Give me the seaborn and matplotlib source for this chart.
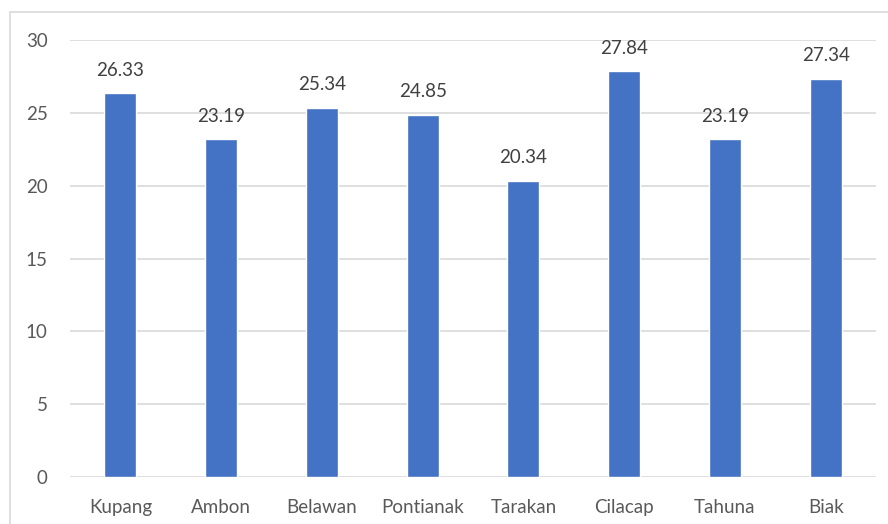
import matplotlib
matplotlib.use("Agg")
import matplotlib.pyplot as plt
import seaborn as sns
import pandas as pd
from matplotlib.patches import Rectangle

# ---- Data ----
cities = ['Kupang', 'Ambon', 'Belawan', 'Pontianak', 'Tarakan', 'Cilacap', 'Tahuna', 'Biak']
values = [26.33, 23.19, 25.34, 24.85, 20.34, 27.84, 23.19, 27.34]
y_ticks = [0, 5, 10, 15, 20, 25, 30]

df = pd.DataFrame({'city': cities, 'value': values})

sns.set_theme(style='white')
plt.rcParams['font.family'] = ['Lato', 'DejaVu Sans']

W, H = 888, 524
fig = plt.figure(figsize=(W / 100, H / 100), dpi=100)
ax = fig.add_axes([70 / W, 1 - 477 / H, (876 - 70) / W, (477 - 40) / H])

sns.barplot(data=df, x='city', y='value', color='#4472C4', width=0.32,
            saturation=1, ax=ax, zorder=3)

ax.set_ylim(0, 30)
ax.set_yticks(y_ticks)
ax.set_xlim(-0.5, len(cities) - 0.5)
ax.grid(axis='y', color='#d9d9d9', linewidth=1.2, zorder=0)
for s in ax.spines.values():
    s.set_visible(False)
ax.set_xlabel('')
ax.set_ylabel('')
ax.tick_params(axis='both', length=0, labelsize=13.5, colors='#595959')
ax.tick_params(axis='x', pad=16)
ax.tick_params(axis='y', pad=16)

for i, v in enumerate(values):
    ax.text(i, v + 1.0, f'{v:.2f}', ha='center', va='bottom',
            fontsize=13.5, color='#404040')

# outer chart frame
fig.patches.append(Rectangle((10 / W, -0.1), 1.2, 1.1 - 12 / H,
                             transform=fig.transFigure, fill=False,
                             edgecolor='#d9d9d9', linewidth=1.2))

fig.savefig('out.png', dpi=100)
